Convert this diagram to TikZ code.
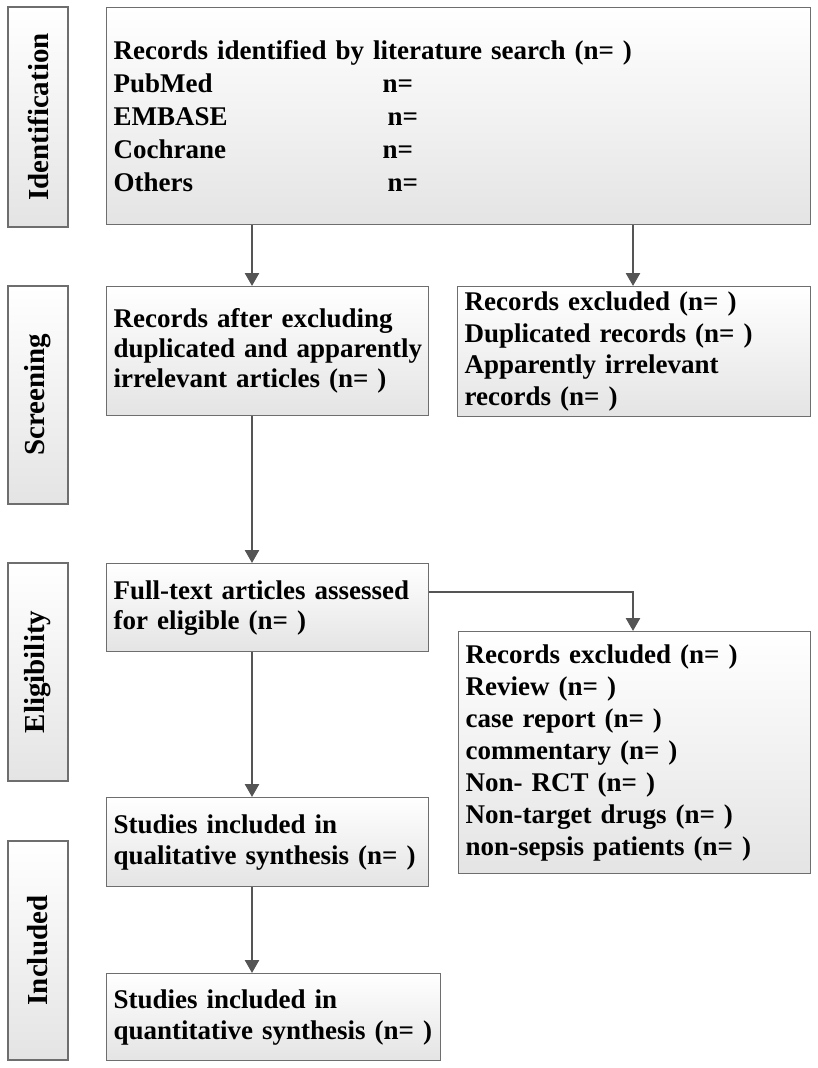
\documentclass[tikz,border=0pt]{standalone}
\usepackage{fontspec}
\setmainfont{Liberation Serif}
\usetikzlibrary{arrows.meta,positioning,calc}
\definecolor{boxline}{RGB}{110,110,110}
\definecolor{arrowgray}{RGB}{85,85,85}
\definecolor{shadegray}{RGB}{228,228,228}

\begin{document}
\begin{tikzpicture}[x=1pt, y=-1pt,
    flowbox/.style={draw=boxline, line width=1.3pt, top color=white, bottom color=shadegray,
      anchor=north west, inner xsep=7pt, inner ysep=0pt, align=left,
      font=\bfseries\fontsize{27}{31}\selectfont},
    sidebox/.style={draw=boxline, line width=1.3pt, top color=white, bottom color=shadegray,
      rotate=90, minimum height=60pt, inner sep=0pt,
      font=\bfseries\fontsize{29}{31}\selectfont},
    flowarrow/.style={draw=arrowgray, line width=2.6pt, -{Triangle[width=14pt,length=13pt]}}]
    \useasboundingbox (0,0) rectangle (817,1068);
    % Stage labels on the left
    \node[sidebox, minimum width=220pt] (ident) at (38,117) {Identification};
    \node[sidebox, minimum width=218pt] (screen) at (38,395) {Screening};
    \node[sidebox, minimum width=218pt] (elig) at (38,672) {Eligibility};
    \node[sidebox, minimum width=219pt] (incl) at (38,950.5) {Included};
    % Identification
    \node[flowbox, text width=690pt, minimum height=217pt,
      font=\bfseries\fontsize{27}{33}\selectfont] (search) at (106,7)
      {Records identified by literature search (n= )\\
       \makebox[269pt][l]{PubMed}n=\\
       \makebox[274pt][l]{EMBASE}n=\\
       \makebox[269pt][l]{Cochrane}n=\\
       \makebox[274pt][l]{Others}n=};
    % Screening
    \node[flowbox, text width=308pt, minimum height=129pt,
      font=\bfseries\fontsize{27}{30}\selectfont] (afterdup) at (106,286)
      {Records after excluding\\ \mbox{duplicated and apparently}\\ irrelevant articles (n= )};
    \node[flowbox, text width=339pt, minimum height=130pt,
      font=\bfseries\fontsize{27}{31.5}\selectfont] (excl1) at (457,286)
      {Records excluded (n= )\\ Duplicated records (n= )\\ Apparently irrelevant\\ records (n= )};
    % Eligibility
    \node[flowbox, text width=308pt, minimum height=88pt,
      font=\bfseries\fontsize{27}{30}\selectfont] (fulltext) at (106,563)
      {Full-text articles assessed\\ for eligible (n= )};
    \node[flowbox, text width=338pt, minimum height=242pt,
      font=\bfseries\fontsize{27}{32}\selectfont] (excl2) at (458,631)
      {Records excluded (n= )\\ Review (n= )\\ case report (n= )\\ commentary (n= )\\
       Non- RCT (n= )\\ Non-target drugs (n= )\\ non-sepsis patients (n= )};
    % Included
    \node[flowbox, text width=308pt, minimum height=89pt] (qual) at (106,797)
      {Studies included in\\ qualitative synthesis (n= )};
    \node[flowbox, text width=320pt, minimum height=87pt] (quant) at (106,973)
      {Studies included in\\ quantitative synthesis (n= )};
    % Connectors
    \coordinate (spine) at (252,0);
    \coordinate (rspine) at (633,0);
    \coordinate (elbow) at (633,592);
    \draw[flowarrow] (search.south -| spine) -- (afterdup.north -| spine);
    \draw[flowarrow] (search.south -| rspine) -- (excl1.north -| rspine);
    \draw[flowarrow] (afterdup.south -| spine) -- (fulltext.north -| spine);
    \draw[flowarrow] (fulltext.east |- elbow) -- (elbow) -- (excl2.north -| elbow);
    \draw[flowarrow] (fulltext.south -| spine) -- (qual.north -| spine);
    \draw[flowarrow] (qual.south -| spine) -- (quant.north -| spine);
\end{tikzpicture}
\end{document}
